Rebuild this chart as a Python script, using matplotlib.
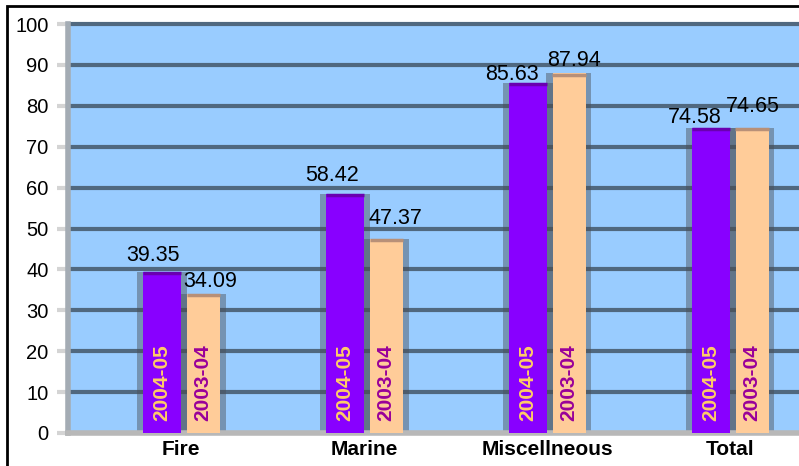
import matplotlib
matplotlib.use("Agg")
import matplotlib.pyplot as plt
from matplotlib.patches import Rectangle
import numpy as np

plt.rcParams['font.family'] = ['Liberation Sans', 'DejaVu Sans']

categories = ['Fire', 'Marine', 'Miscellneous', 'Total']
y2004 = [39.35, 58.42, 85.63, 74.58]
y2003 = [34.09, 47.37, 87.94, 74.65]
series_names = ['2004-05', '2003-04']

# label nudges (pixels) as placed in the original chart
nudge1 = [(-9, 11), (-12, 13), (-16, 3), (-16, 5)]
nudge2 = [(7, 7), (9, 15), (5, 7), (1, 16)]

W, H = 799, 466
fig = plt.figure(figsize=(W / 100, H / 100), dpi=100)

# outer frame (only left and top visible)
fig.patches.append(Rectangle((7 / W, -0.1), 1.2, 1 - 6 / H + 0.1, transform=fig.transFigure,
                             fill=False, edgecolor='black', linewidth=2))

ax = fig.add_axes([68 / W, 33 / H, 1 - 68 / W, (433 - 24) / H])
ax.set_facecolor('#99ccff')

px = 183.0  # pixels per category unit
x = np.arange(len(categories))
ax.set_xlim(-(181 - 68) / px, (799 - 181) / px)
ax.set_ylim(0, 100)

w1, w2, sh = 38 / px, 33 / px, 6 / px
c1 = x - 38.5 / px + w1 / 2
c2 = x + 38.5 / px - w2 / 2

for yv in range(10, 101, 10):
    ax.axhline(yv, color='#50687f', linewidth=3, zorder=1, clip_on=False)

# shadows
for cx, w, vals in [(c1, w1, y2004), (c2, w2, y2003)]:
    for xi, v in zip(cx, vals):
        ax.add_patch(Rectangle((xi - w / 2 - sh, 0), w + 2 * sh, v, facecolor='#4a4f55',
                               alpha=0.45, edgecolor='none', zorder=2))

ax.bar(c1, y2004, width=w1, color='#8800ff', edgecolor='none', zorder=3)
ax.bar(c2, y2003, width=w2, color='#ffcc99', edgecolor='none', zorder=3)
for xi, v in zip(c1, y2004):
    ax.plot([xi - w1 / 2, xi + w1 / 2], [v - 0.3, v - 0.3], color='#6a00b0', lw=2.5, zorder=4,
            solid_capstyle='butt')
for xi, v in zip(c2, y2003):
    ax.plot([xi - w2 / 2, xi + w2 / 2], [v - 0.3, v - 0.3], color='#b89078', lw=2.5, zorder=4,
            solid_capstyle='butt')

for cx, vals, nudges, name, tcol in [(c1, y2004, nudge1, series_names[0], '#ffcc66'),
                                     (c2, y2003, nudge2, series_names[1], '#990099')]:
    for xi, v, (dx, dy) in zip(cx, vals, nudges):
        ax.annotate(f'{v:.2f}', (xi, v), xytext=(dx * 0.72, dy * 0.72),
                    textcoords='offset points', ha='center', va='baseline',
                    fontsize=15.5, zorder=5)
        ax.text(xi, 3, name, rotation=90, ha='center', va='bottom',
                fontsize=15, fontweight='bold', color=tcol, zorder=5)

ax.set_xticks(x)
ax.set_xticklabels(categories, fontsize=15, fontweight='bold')
ax.tick_params(axis='x', length=0, pad=5)
ax.set_yticks(range(0, 101, 10))
ax.tick_params(axis='y', length=8, width=3, color='#d4d4d4', labelsize=14.5, pad=6)

for s in ['top', 'right']:
    ax.spines[s].set_visible(False)
ax.spines['left'].set_color('#a4acb4')
ax.spines['left'].set_linewidth(4)
ax.spines['bottom'].set_color('#b8b8b8')
ax.spines['bottom'].set_linewidth(4)

fig.savefig('out.png', dpi=100)
